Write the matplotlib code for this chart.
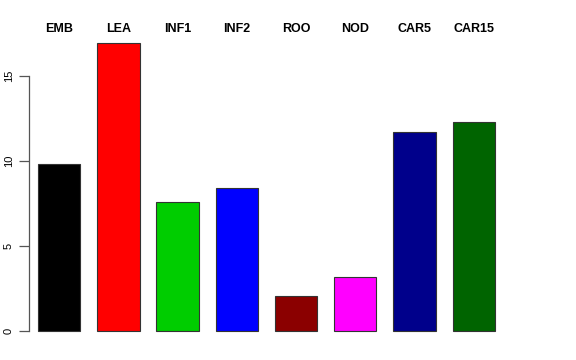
import matplotlib
matplotlib.use("Agg")
import matplotlib.pyplot as plt
import matplotlib.transforms as mtransforms

# tissue names and bar heights
tissues = ["EMB", "LEA", "INF1", "INF2", "ROO", "NOD", "CAR5", "CAR15"]
values = [9.82, 16.91, 7.61, 8.40, 2.03, 3.15, 11.68, 12.31]
colors = ["black", "red", "#00CD00", "blue", "#8B0000", "magenta", "#00008B", "#006400"]
yticks = [0, 5, 10, 15]

plt.rcParams["font.family"] = ["Liberation Sans", "DejaVu Sans"]

fig = plt.figure(figsize=(5.76, 3.6), dpi=100)
# plot region in pixels: left 29, right ~513, bottom 342.5, top 32.5
ax = fig.add_axes([29 / 576, 17.5 / 360, (513 - 29) / 576, 310 / 360])

# R barplot style: width 1, space 0.4
pos = [0.9 + 1.4 * i for i in range(len(tissues))]
ax.bar(pos, values, width=1.0, color=colors, edgecolor="#333333", linewidth=0.8)

ax.set_xlim(0.187, 0.4 + (513 - 38) / 42.3)
ax.set_ylim(-0.675, 17.545)

for s in ["top", "right", "bottom"]:
    ax.spines[s].set_visible(False)
ax.spines["left"].set_bounds(0, 15)
ax.spines["left"].set_color("#555555")
ax.spines["left"].set_linewidth(0.9)
ax.set_xticks([])
ax.set_yticks(yticks)
ax.set_yticklabels([str(t) for t in yticks], rotation=90, va="center", fontsize=8)
ax.tick_params(axis="y", length=7, width=0.9, color="#555555", pad=4)

trans = mtransforms.blended_transform_factory(ax.transData, fig.transFigure)
for x, name in zip(pos, tissues):
    ax.text(x, 1 - 29 / 360, name, transform=trans, ha="center", va="center",
            fontsize=9, fontweight="bold")

fig.savefig("out.png", dpi=100)
